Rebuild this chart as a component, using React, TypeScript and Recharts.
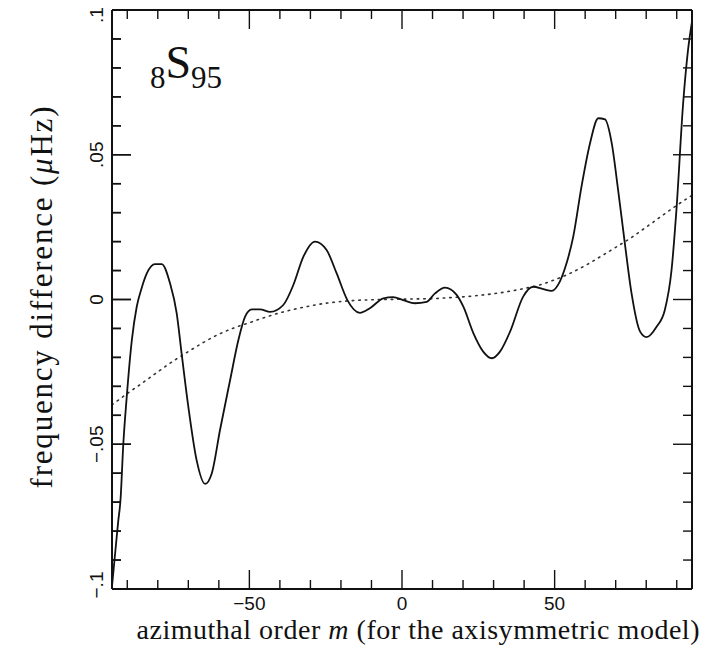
import React from 'react';
import { LineChart, Line, XAxis, YAxis, ReferenceLine } from 'recharts';

// Solid curve: frequency difference vs azimuthal order m
const solidM = [
  -95, -94, -93, -92.2, -91.3, -90.2, -88.5, -86.9, -85.3, -83.6, -80.9, -78.7,
  -76, -73.8, -72.2, -70, -67.3, -64.5, -62.3, -59.6, -56.3, -53.6, -51.4, -49.2,
  -46.5, -43.2, -38.9, -35.6, -32.3, -28.5, -24.7, -21.4, -17.9, -13.8, -10.5, -6.1,
  -2.9, 0.4, 4.2, 8.1, 10.8, 14.1, 17.9, 20.1, 23.4, 26.6, 29.4, 32.1, 35.4, 39.7,
  43, 46.3, 49, 51.7, 53.9, 56.1, 58.8, 61.6, 64.3, 66.5, 68.7, 70.8, 73, 75.2, 78,
  80.1, 83.4, 86.1, 88.3, 89.9, 92.1, 93.7, 95,
];
const solidV = [
  -0.099, -0.088, -0.077, -0.069, -0.05, -0.034, -0.014, -0.0025, 0.0039, 0.009, 0.0122, 0.0122,
  0.0056, -0.0048, -0.0186, -0.037, -0.0554, -0.0637, -0.06, -0.045, -0.0278, -0.014, -0.0059, -0.0034,
  -0.0034, -0.0043, -0.0019, 0.005, 0.0148, 0.02, 0.0171, 0.009, -0.0002, -0.0046, -0.003, 0.0004,
  0.0008, -0.0002, -0.0013, -0.0008, 0.0021, 0.0041, 0.0016, -0.0025, -0.0117, -0.018, -0.0203, -0.018, -0.0111, 0.001,
  0.0044, 0.0036, 0.003, 0.0062, 0.0125, 0.0217, 0.039, 0.054, 0.0626, 0.0622, 0.054, 0.0378, 0.0194, 0.0021, -0.0111,
  -0.013, -0.0094, -0.0036, 0.0102, 0.0309, 0.0678, 0.0862, 0.096,
];

// Dotted curve
const dottedM = [
  -95, -90, -85, -80, -75, -70, -65, -60, -55, -50, -45, -40, -35, -30, -25, -20, -15, -10, -5,
  0, 5, 10, 15, 20, 25, 30, 35, 40, 45, 50, 55, 60, 65, 70, 75, 80, 85, 90, 95,
];
const dottedV = [
  -0.0364, -0.0325, -0.0288, -0.025, -0.0213, -0.018, -0.0148, -0.012, -0.0098, -0.008, -0.0062, -0.0046,
  -0.0033, -0.0022, -0.0013, -0.0007, -0.0003, -0.0001, 0, 0.0001, 0.0002, 0.0003, 0.0006, 0.0009, 0.0014,
  0.002, 0.0028, 0.0038, 0.005, 0.0068, 0.009, 0.0117, 0.0148, 0.018, 0.0213, 0.025, 0.0288, 0.0325, 0.036,
];

const xTicks = [-90, -80, -70, -60, -50, -40, -30, -20, -10, 0, 10, 20, 30, 40, 50, 60, 70, 80, 90];
const xMajor = [-50, 0, 50];
const xTickLabels = ['\u221250', '0', '50'];
const yTicks = [
  -0.1, -0.09, -0.08, -0.07, -0.06, -0.05, -0.04, -0.03, -0.02, -0.01, 0,
  0.01, 0.02, 0.03, 0.04, 0.05, 0.06, 0.07, 0.08, 0.09, 0.1,
];
const yMajor = [-0.1, -0.05, 0, 0.05, 0.1];
const yTickLabels = ['\u2212.1', '\u2212.05', '0', '.05', '.1'];
const xDomain = [-95, 95];
const yDomain = [-0.1, 0.1];

const solidData = solidM.map((m, i) => ({ m, v: solidV[i] }));
const dottedData = dottedM.map((m, i) => ({ m, v: dottedV[i] }));

const SERIF = '"Liberation Serif", "Times New Roman", serif';
const SANS = '"Liberation Sans", Arial, sans-serif';
const INK = '#111';
const MAJOR_LEN = 19;
const MINOR_LEN = 9;
const PLOT_LEFT = 112;
const PLOT_TOP = 10;
const PLOT_W = 580;
const PLOT_H = 579;
const tickPx = (v: number) => PLOT_TOP + ((yDomain[1] - v) / (yDomain[1] - yDomain[0])) * PLOT_H;

const isMajor = (arr: number[], v: number) => arr.some((a) => Math.abs(a - v) < 1e-9);
const idxOf = (arr: number[], v: number) => arr.findIndex((a) => Math.abs(a - v) < 1e-9);

const BottomTick = (props: any) => {
  const x = Number(props.x);
  const y = Number(props.y);
  const major = isMajor(xMajor, props.payload.value);
  const i = idxOf(xMajor, props.payload.value);
  const len = major ? MAJOR_LEN : MINOR_LEN;
  return (
    <g>
      <path d={`M${x},${y}v${-len}`} stroke={INK} strokeWidth={1.4} fill="none" />
      <path d={`M${x},${y - PLOT_H}v${len}`} stroke={INK} strokeWidth={1.4} fill="none" />
      {major && (
        <text x={x} y={y + 21} textAnchor="middle" fontFamily={SANS} fontSize={19} fill={INK}>
          {xTickLabels[i]}
        </text>
      )}
    </g>
  );
};

const LeftTick = (props: any) => {
  const x = Number(props.x);
  const y = Number(props.y);
  const major = isMajor(yMajor, props.payload.value);
  const i = idxOf(yMajor, props.payload.value);
  const len = major ? MAJOR_LEN : MINOR_LEN;
  let ty = y;
  if (i === 4) ty = y + 5;
  if (i === 0) ty = y - 4;
  return (
    <g>
      <path d={`M${x},${y}h${len}`} stroke={INK} strokeWidth={1.5} fill="none" />
      {i >= 0 && (
        <text
          x={x - 16}
          y={ty}
          transform={`rotate(-90, ${x - 16}, ${ty})`}
          textAnchor="middle"
          dominantBaseline="central"
          fontFamily={SANS}
          fontSize={19}
          fill={INK}
        >
          {yTickLabels[i]}
        </text>
      )}
    </g>
  );
};

const RightTick = (props: any) => {
  const x = Number(props.x);
  const y = Number(props.y);
  const major = isMajor(yMajor, props.payload.value);
  const len = major ? MAJOR_LEN : MINOR_LEN;
  return <path d={`M${x},${y}h${-len}`} stroke={INK} strokeWidth={1.4} fill="none" />;
};

const XLabel = (props: any) => {
  const vb = props.viewBox || { x: 0, y: 0, width: 0, height: 0 };
  const cx = vb.x + vb.width / 2 + 16;
  return (
    <text
      x={cx}
      y={vb.y + 50}
      textAnchor="middle"
      fontFamily={SERIF}
      fontSize={28}
      fill={INK}
      textLength={563}
      lengthAdjust="spacing"
    >
      azimuthal order <tspan fontStyle="italic">m</tspan> (for the axisymmetric model)
    </text>
  );
};

export default function App() {
  const yCenter = PLOT_TOP + PLOT_H / 2 - 2;
  return (
    <div style={{ position: 'absolute', left: 0, top: 0, width: 717, height: 655, background: '#fff' }}>
      <LineChart width={717} height={655} margin={{ top: 10, right: 0, bottom: 0, left: 0 }}>
        <XAxis
          xAxisId="b"
          type="number"
          dataKey="m"
          domain={xDomain}
          allowDataOverflow
          ticks={xTicks}
          interval={0}
          tickSize={0}
          tickMargin={0}
          tickLine={false}
          tick={<BottomTick />}
          height={66}
          axisLine={{ stroke: INK, strokeWidth: 2 }}
          label={<XLabel />}
        />
        <YAxis
          yAxisId="l"
          type="number"
          domain={yDomain}
          allowDataOverflow
          ticks={yTicks}
          interval={0}
          tickSize={0}
          tickMargin={0}
          tickLine={false}
          tick={<LeftTick />}
          width={112}
          axisLine={{ stroke: INK, strokeWidth: 2 }}
        />
        <YAxis
          yAxisId="r"
          orientation="right"
          type="number"
          domain={yDomain}
          allowDataOverflow
          ticks={yTicks}
          interval={0}
          tickSize={0}
          tickMargin={0}
          tickLine={false}
          tick={<RightTick />}
          width={25}
          axisLine={{ stroke: INK, strokeWidth: 2 }}
        />
        <ReferenceLine xAxisId="b" yAxisId="l" y={yDomain[1]} stroke={INK} strokeWidth={2} />
        <Line
          xAxisId="b"
          yAxisId="l"
          data={dottedData}
          dataKey="v"
          type="monotone"
          stroke="#333"
          strokeWidth={1.6}
          strokeDasharray="1.5 5"
          strokeLinecap="round"
          dot={false}
          isAnimationActive={false}
        />
        <Line
          xAxisId="b"
          yAxisId="l"
          data={solidData}
          dataKey="v"
          type="monotone"
          stroke={INK}
          strokeWidth={1.8}
          dot={false}
          isAnimationActive={false}
        />
      </LineChart>
      <svg
        width={717}
        height={655}
        style={{ position: 'absolute', left: 0, top: 0, pointerEvents: 'none' }}
      >
        {yTicks.map((v) => (
          <path
            key={`lt${v}`}
            d={`M${PLOT_LEFT},${tickPx(v)}h${isMajor(yMajor, v) ? MAJOR_LEN : MINOR_LEN}`}
            stroke={INK}
            strokeWidth={1.5}
            fill="none"
          />
        ))}
        <text
          x={41}
          y={yCenter}
          transform={`rotate(-90, 41, ${yCenter})`}
          textAnchor="middle"
          dominantBaseline="central"
          fontFamily={SERIF}
          fontSize={31}
          fill={INK}
          textLength={382}
          lengthAdjust="spacing"
        >
          frequency difference (<tspan fontStyle="italic">μ</tspan>Hz)
        </text>
        <text x={150} y={88} fontFamily={SERIF} fill={INK}>
          <tspan fontSize={31}>8</tspan>
          <tspan fontSize={46} dy={-10}>S</tspan>
          <tspan fontSize={31} dy={10}>95</tspan>
        </text>
      </svg>
    </div>
  );
}
